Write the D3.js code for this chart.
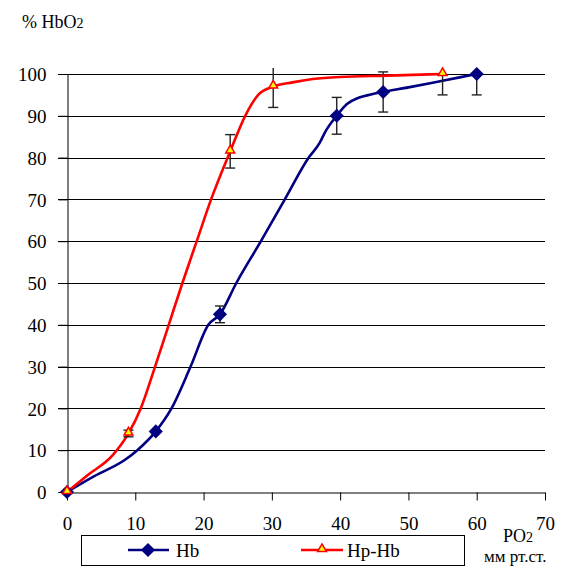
<!DOCTYPE html>
<html>
<head>
<meta charset="utf-8">
<script src="https://cdn.jsdelivr.net/npm/d3@7"></script>
<style>
  body { margin: 0; background: #fff; }
</style>
</head>
<body>
<div id="chart"></div>
<script>
// x ticks / y ticks
var xTicks = [0, 10, 20, 30, 40, 50, 60, 70];
var yTicks = [0, 10, 20, 30, 40, 50, 60, 70, 80, 90, 100];

// Hb: measured points (markers) and error
var hbX = [0, 13, 22.4, 39.5, 46.3, 60];
var hbY = [0, 14.5, 42.5, 90, 95.7, 100];
var hbErr = [0, 0, 2, 4.4, 4.8, 5];
// Hb curve as drawn
var hbCurveX = [0, 4, 8.5, 10.3, 13, 15.3, 18.1, 20.7, 22.4, 24.8, 28.4, 31.9, 35.4, 37, 37.8, 39.5, 41, 42.7, 44.5, 46.3, 50, 55, 60];
var hbCurveY = [0, 3.8, 7.7, 10, 14.5, 20, 30, 40, 42.5, 50, 60, 70, 80, 83.5, 86.1, 90, 92.8, 94.3, 95.1, 95.7, 96.8, 98.4, 100];

// Hp-Hb: measured points (markers) and error
var hpX = [0, 9, 23.9, 30.2, 55];
var hpY = [0, 14, 81.5, 97, 100];
var hpErr = [0, 0.8, 4, 5, 5];
// Hp-Hb curve as drawn
var hpCurveX = [0, 3, 6.7, 9, 10.8, 12.9, 14.9, 16.9, 19, 21.1, 23.9, 26.1, 28, 30.2, 33, 36, 40, 47, 55];
var hpCurveY = [0, 4, 8.8, 14, 20, 30, 40, 50, 60, 70, 81.5, 90, 95, 97, 98, 98.8, 99.3, 99.6, 100];

var width = 580, height = 569;
var margin = {top: 74, right: 35, bottom: 77, left: 67};
var serif = "'Liberation Serif', 'DejaVu Serif', 'Times New Roman', serif";

var svg = d3.select("#chart")
  .append("svg")
  .attr("width", width)
  .attr("height", height)
  .attr("font-family", serif);

var x = d3.scaleLinear().domain([0, 70]).range([margin.left, width - margin.right]);
var y = d3.scaleLinear().domain([0, 100]).range([height - margin.bottom, margin.top]);

// clip for error bars (plot area)
svg.append("clipPath").attr("id", "plotclip")
  .append("rect")
  .attr("x", 0).attr("y", y(100) - 6)
  .attr("width", width).attr("height", y(0) - y(100) + 20);

// gridlines
svg.append("g")
  .selectAll("line")
  .data(yTicks.slice(1))
  .enter().append("line")
  .attr("x1", x(0) - 9).attr("x2", x(70))
  .attr("y1", function(d) { return Math.round(y(d)) + 0.5; })
  .attr("y2", function(d) { return Math.round(y(d)) + 0.5; })
  .attr("stroke", "#000").attr("stroke-width", 1);

// y axis
var yAxis = svg.append("g")
  .attr("transform", "translate(" + (x(0) + 0.5) + ",0)")
  .call(d3.axisLeft(y).tickValues(yTicks).tickSize(9).tickPadding(12));
yAxis.attr("font-family", serif).attr("font-size", 19);
yAxis.select(".domain").attr("stroke", "#000");
yAxis.selectAll("text").attr("fill", "#000").attr("dy", "0.35em");

// x axis
var xAxis = svg.append("g")
  .attr("transform", "translate(0," + (Math.round(y(0)) + 0.5) + ")")
  .call(d3.axisBottom(x).tickValues(xTicks).tickSize(8).tickSizeOuter(0).tickPadding(16));
xAxis.attr("font-family", serif).attr("font-size", 19);
xAxis.select(".domain").attr("stroke", "#000");
xAxis.selectAll("text").attr("fill", "#000").attr("dy", "0.7em");

// axis titles
var yTitle = svg.append("text").attr("x", 22).attr("y", 28).attr("font-size", 18);
yTitle.append("tspan").text("% HbO");
yTitle.append("tspan").attr("font-size", 14).text("2");

var xTitle = svg.append("text").attr("x", 503).attr("y", 542).attr("font-size", 18);
xTitle.append("tspan").text("PO");
xTitle.append("tspan").attr("font-size", 14).text("2");

svg.append("text").attr("x", 484).attr("y", 562).attr("font-size", 17).text("мм рт.ст.");

var line = d3.line()
  .x(function(d) { return x(d[0]); })
  .y(function(d) { return y(d[1]); })
  .curve(d3.curveMonotoneX);

function drawSeries(cx, cy, mx, my, err, color) {
  var curve = cx.map(function(v, i) { return [v, cy[i]]; });
  var pts = mx.map(function(v, i) { return {x: v, y: my[i], e: err[i]}; });

  svg.append("path")
    .datum(curve)
    .attr("d", line)
    .attr("fill", "none")
    .attr("stroke", color)
    .attr("stroke-width", 2.6);

  var eb = svg.append("g").attr("clip-path", "url(#plotclip)")
    .selectAll("g")
    .data(pts.filter(function(d) { return d.e > 0; }))
    .enter().append("g");
  eb.append("line")
    .attr("x1", function(d) { return x(d.x); }).attr("x2", function(d) { return x(d.x); })
    .attr("y1", function(d) { return y(d.y + d.e); }).attr("y2", function(d) { return y(d.y - d.e); })
    .attr("stroke", "#222").attr("stroke-width", 1.4);
  [1, -1].forEach(function(s) {
    eb.append("line")
      .attr("x1", function(d) { return x(d.x) - 5; }).attr("x2", function(d) { return x(d.x) + 5; })
      .attr("y1", function(d) { return y(d.y + s * d.e); }).attr("y2", function(d) { return y(d.y + s * d.e); })
      .attr("stroke", "#222").attr("stroke-width", 1.4);
  });
  return pts;
}

var hbPts = drawSeries(hbCurveX, hbCurveY, hbX, hbY, hbErr, "#000080");
var hpPts = drawSeries(hpCurveX, hpCurveY, hpX, hpY, hpErr, "#ff0000");

var diamond = d3.symbol().type(d3.symbolSquare).size(100);
var triangle = d3.symbol().type(d3.symbolTriangle).size(34);

svg.append("g").selectAll("path")
  .data(hbPts).enter().append("path")
  .attr("d", diamond)
  .attr("transform", function(d) { return "translate(" + x(d.x) + "," + y(d.y) + ") rotate(45)"; })
  .attr("fill", "#000080");

svg.append("g").selectAll("path")
  .data(hpPts).enter().append("path")
  .attr("d", triangle)
  .attr("transform", function(d) { return "translate(" + x(d.x) + "," + (y(d.y) - 1) + ")"; })
  .attr("fill", "#ffff00").attr("stroke", "#ff0000").attr("stroke-width", 1.5);

// legend
var legend = svg.append("g");
legend.append("rect")
  .attr("x", 81.5).attr("y", 535.5).attr("width", 383).attr("height", 30)
  .attr("fill", "#fff").attr("stroke", "#000").attr("stroke-width", 1);

legend.append("line").attr("x1", 128).attr("x2", 169).attr("y1", 550).attr("y2", 550)
  .attr("stroke", "#000080").attr("stroke-width", 2.6);
legend.append("path").attr("d", diamond)
  .attr("transform", "translate(148,550) rotate(45)").attr("fill", "#000080");
legend.append("text").attr("x", 176).attr("y", 557).attr("font-size", 19).text("Hb");

legend.append("line").attr("x1", 301).attr("x2", 343).attr("y1", 550).attr("y2", 550)
  .attr("stroke", "#ff0000").attr("stroke-width", 2.6);
legend.append("path").attr("d", triangle)
  .attr("transform", "translate(322,549)")
  .attr("fill", "#ffff00").attr("stroke", "#ff0000").attr("stroke-width", 1.5);
legend.append("text").attr("x", 347).attr("y", 557).attr("font-size", 19).text("Hp-Hb");
</script>
</body>
</html>
